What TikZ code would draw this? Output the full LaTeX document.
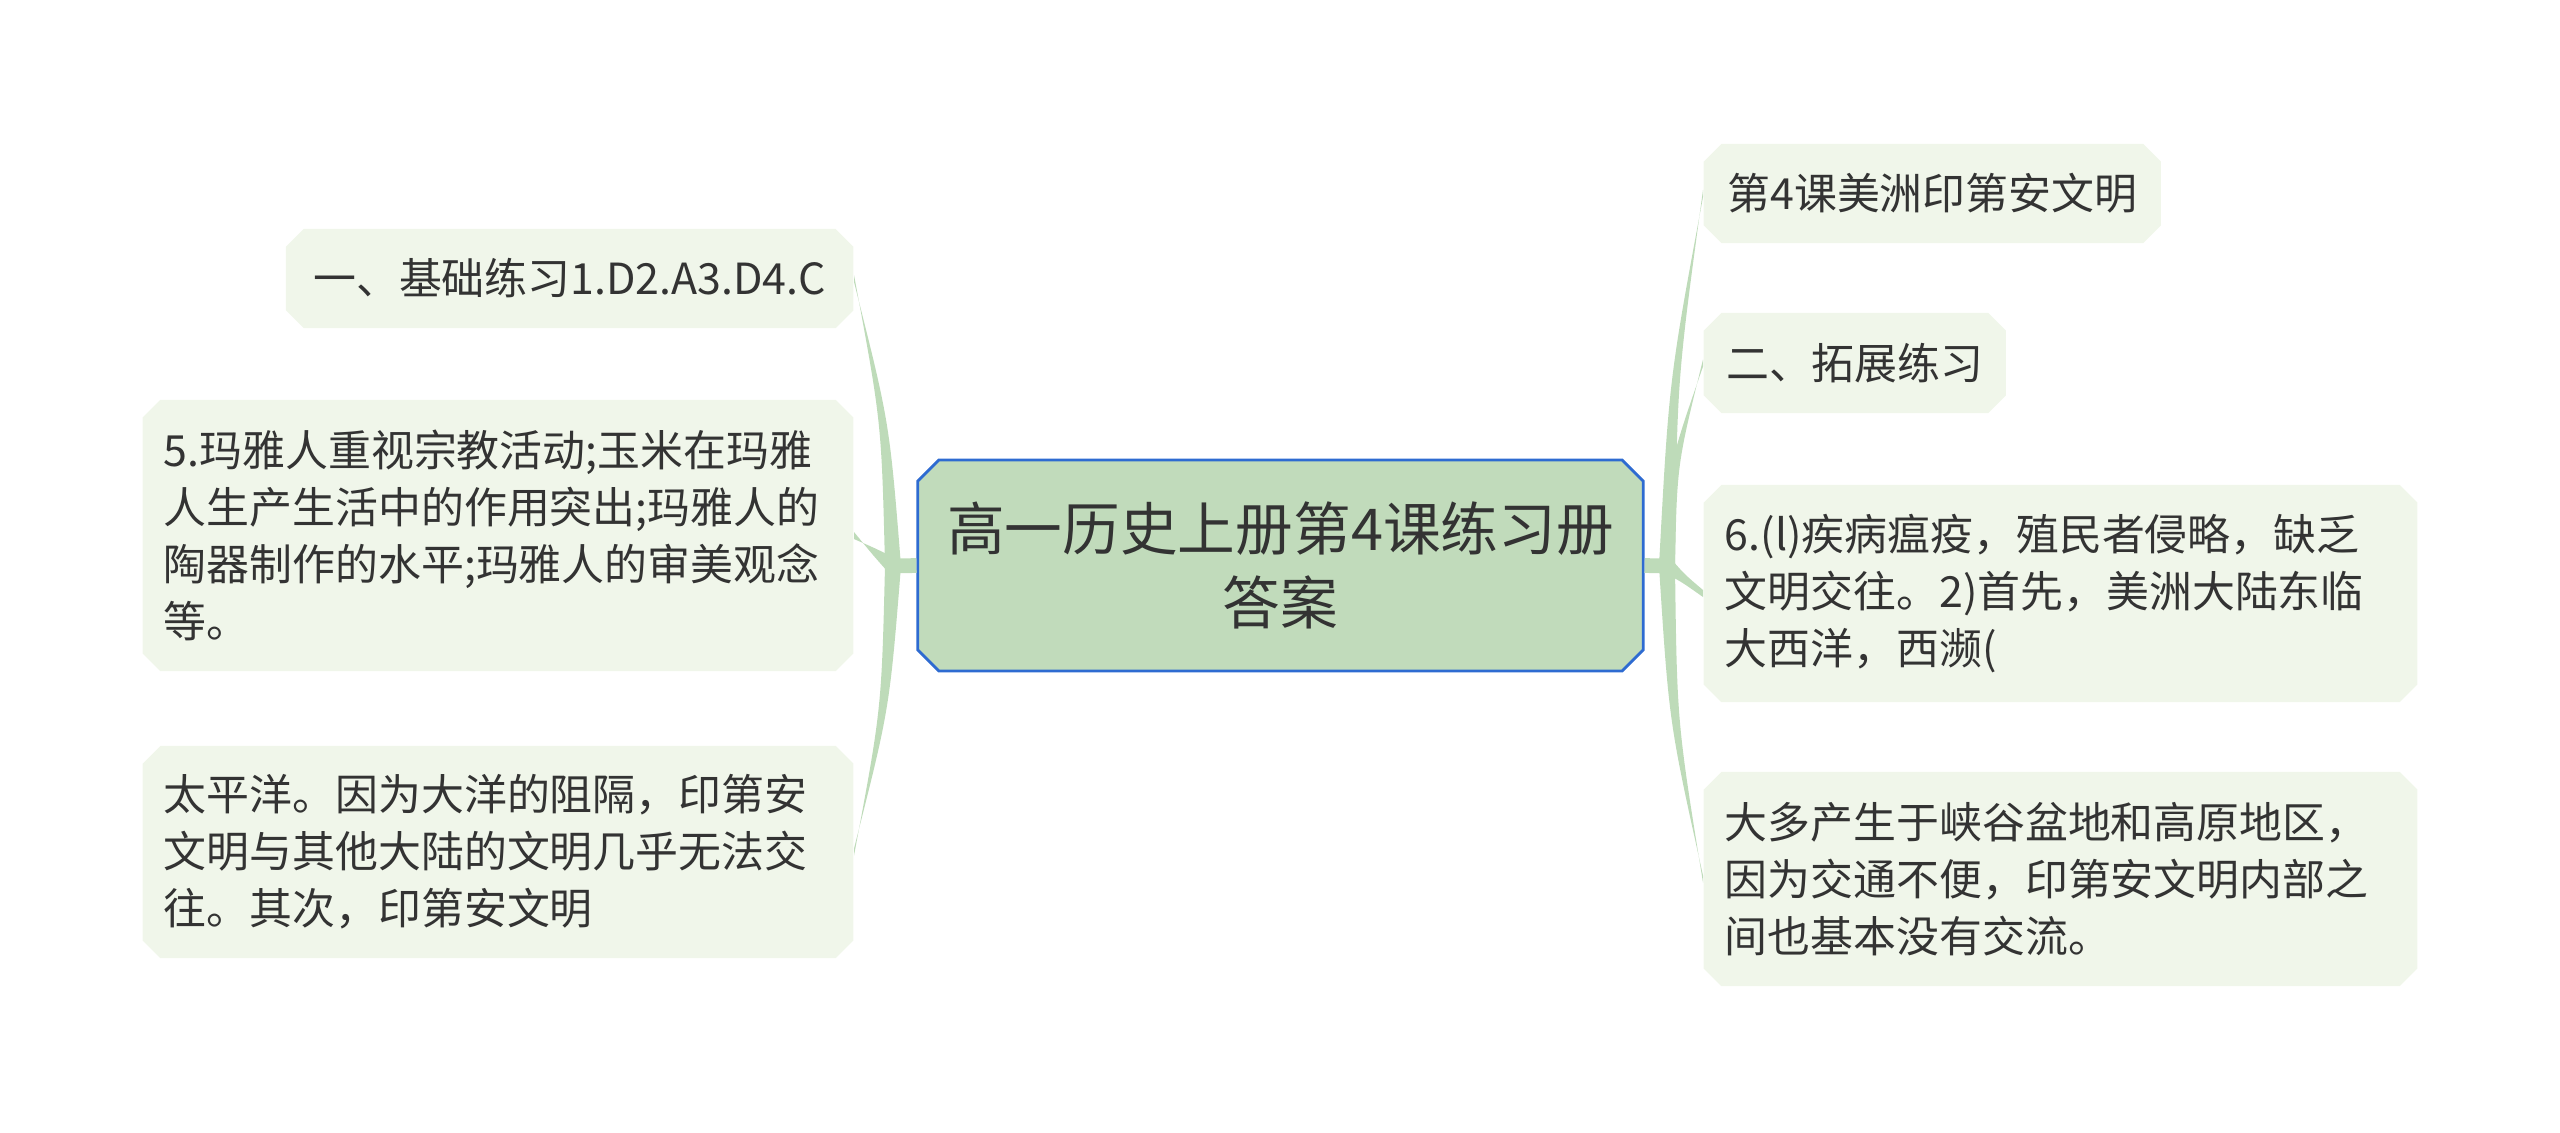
\documentclass[tikz,border=0pt]{standalone}
\usepackage{fontspec}
\newfontfamily\cjk{Noto Sans CJK SC}
\usetikzlibrary{shapes.misc, calc}

\definecolor{rootfill}{HTML}{C1DBBB}
\definecolor{rootline}{HTML}{2E6BD1}
\definecolor{leaffill}{HTML}{F0F6EA}
\definecolor{twiggreen}{HTML}{BEDBB9}
\definecolor{textdark}{HTML}{333333}

\begin{document}
\begin{tikzpicture}[
        x=0.01cm, y=-0.01cm,
        root/.style={chamfered rectangle, chamfered rectangle angle=45, chamfered rectangle xsep=3pt, chamfered rectangle ysep=3pt, draw=rootline, line width=0.8pt, fill=rootfill, text=textdark, align=center, inner sep=0pt, minimum width=7.25cm, minimum height=2.11cm, font=\cjk\fontsize{16.4pt}{20.9pt}\selectfont},
        leaf/.style={chamfered rectangle, chamfered rectangle angle=45, chamfered rectangle xsep=2.5pt, chamfered rectangle ysep=2.5pt, fill=leaffill, text=textdark, align=left, inner xsep=3.5pt, inner ysep=3.5pt, font=\cjk\fontsize{12.2pt}{16.2pt}\selectfont},
        twig/.style={fill=twiggreen},
        stub/.style={draw=twiggreen, line width=4.2pt}
    ]
        \useasboundingbox (0,0) rectangle (2560,1132);

        % 1. Tema central
        \node[root] (root) at (1280.5,565.5) {高一历史上册第4课练习册\\答案};

        % 2. Ramos da esquerda
        \node[leaf, anchor=east, minimum width=5.67cm, minimum height=0.99cm] (l1) at (854,278.5) {一、基础练习1.D2.A3.D4.C};
        \node[leaf, anchor=east, text width=6.68cm, minimum height=2.71cm] (l2) at (854,535.5)
            {5.玛雅人重视宗教活动;玉米在玛雅\\人生产生活中的作用突出;玛雅人的\\陶器制作的水平;玛雅人的审美观念\\等。};
        \node[leaf, anchor=east, text width=6.68cm, minimum height=2.12cm] (l3) at (854,852)
            {太平洋。因为大洋的阻隔，印第安\\文明与其他大陆的文明几乎无法交\\往。其次，印第安文明};

        % 3. Ramos da direita
        \node[leaf, anchor=west, minimum width=4.57cm, minimum height=0.99cm] (r1) at (1703,193.5) {第4课美洲印第安文明};
        \node[leaf, anchor=west, minimum width=3.02cm, minimum height=1.0cm] (r2) at (1703,363) {二、拓展练习};
        \node[leaf, anchor=west, text width=6.71cm, minimum height=2.17cm] (r3) at (1703,593.5)
            {6.(l)疾病瘟疫，殖民者侵略，缺乏\\文明交往。2)首先，美洲大陆东临\\大西洋，西濒(};
        \node[leaf, anchor=west, text width=6.71cm, minimum height=2.14cm] (r4) at (1703,879)
            {大多产生于峡谷盆地和高原地区，\\因为交通不便，印第安文明内部之\\间也基本没有交流。};

        % Ligações (ramos afunilados)
        \coordinate (lj) at (893,566);
        \coordinate (rj) at (1667,566);
        \draw[stub] (root.west) -- (lj);
        \draw[stub] (root.east) -- (rj);

        \fill[twig] ([shift={(8,0)}]lj) .. controls ($(lj)!0.5!(l1.east)+(16,0)$) .. ([yshift=-1pt]l1.east) -- ([yshift=1pt]l1.east) .. controls ($(lj)!0.5!(l1.east)+(8,0)$) .. ([shift={(-8,0)}]lj) -- cycle;
        \fill[twig] ([shift={(5,-6)}]lj) .. controls ($(lj)!0.5!(l2.east)+(5,-1)$) .. ([yshift=-1pt]l2.east) -- ([yshift=1pt]l2.east) .. controls ($(lj)!0.5!(l2.east)+(0,5)$) .. ([shift={(-5,6)}]lj) -- cycle;
        \fill[twig] ([shift={(8,0)}]lj) .. controls ($(lj)!0.5!(l3.east)+(16,0)$) .. ([yshift=1pt]l3.east) -- ([yshift=-1pt]l3.east) .. controls ($(lj)!0.5!(l3.east)+(8,0)$) .. ([shift={(-8,0)}]lj) -- cycle;

        \fill[twig] ([shift={(8,0)}]rj) .. controls ($(rj)!0.5!(r1.west)+(-8,0)$) .. ([yshift=1pt]r1.west) -- ([yshift=-1pt]r1.west) .. controls ($(rj)!0.5!(r1.west)+(-16,0)$) .. ([shift={(-8,0)}]rj) -- cycle;
        \fill[twig] ([shift={(8,0)}]rj) .. controls ($(rj)!0.5!(r2.west)+(-8,0)$) .. ([yshift=1pt]r2.west) -- ([yshift=-1pt]r2.west) .. controls ($(rj)!0.5!(r2.west)+(-16,0)$) .. ([shift={(-8,0)}]rj) -- cycle;
        \fill[twig] ([shift={(5,-6)}]rj) .. controls ($(rj)!0.5!(r3.west)+(0,-5)$) .. ([yshift=1pt]r3.west) -- ([yshift=-1pt]r3.west) .. controls ($(rj)!0.5!(r3.west)+(-5,1)$) .. ([shift={(-5,6)}]rj) -- cycle;
        \fill[twig] ([shift={(8,0)}]rj) .. controls ($(rj)!0.5!(r4.west)+(-8,0)$) .. ([yshift=-1pt]r4.west) -- ([yshift=1pt]r4.west) .. controls ($(rj)!0.5!(r4.west)+(-16,0)$) .. ([shift={(-8,0)}]rj) -- cycle;

    \end{tikzpicture}
\end{document}
